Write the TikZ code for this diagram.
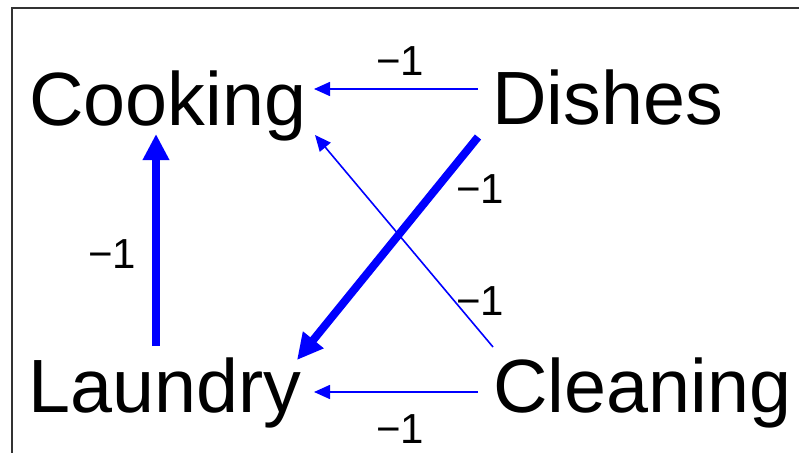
\documentclass[tikz,border=0pt]{standalone}
\usepackage{fontspec}
\setmainfont{Liberation Sans}
\usetikzlibrary{arrows.meta}
\begin{document}
\begin{tikzpicture}[x=1pt,y=-1pt,
  task/.style={anchor=base west,inner sep=0pt,font=\fontsize{75.5}{75.5}\selectfont},
  wlabel/.style={anchor=base,inner sep=0pt,font=\fontsize{42}{42}\selectfont},
  thinedge/.style={draw=blue,line width=1.6pt,-{Triangle[length=16pt,width=14pt]}},
  thickedge/.style={draw=blue,line width=8pt,-{Triangle[length=26pt,width=25pt]}}]
\useasboundingbox (0,0) rectangle (799,452);
\draw[line width=1.4pt,black!80] (12,8) rectangle (830,480);
\node[task] (cooking) at (29,125) {Cooking};
\node[task] (dishes) at (492,124) {Dishes};
\node[task] (laundry) at (28,412) {Laundry};
\node[task] (cleaning) at (493,412) {Cleaning};
\coordinate (dcS) at (478,89);
\coordinate (dcE) at (314,89);
\coordinate (clS) at (478,392);
\coordinate (clE) at (314,392);
\coordinate (lcS) at (156,346);
\coordinate (lcE) at (156,134);
\coordinate (dlS) at (478,137);
\coordinate (dlE) at (297,360);
\coordinate (ccS) at (493,347);
\coordinate (ccE) at (315,135);
\draw[thinedge] (dcS) -- (dcE);
\draw[thinedge] (clS) -- (clE);
\draw[thickedge] (lcS) -- (lcE);
\draw[thickedge] (dlS) -- (dlE);
\draw[thinedge] (ccS) -- (ccE);
\node[wlabel] (l1) at (400,75) {−1};
\node[wlabel] (l2) at (400,443) {−1};
\node[wlabel] (l3) at (112,268) {−1};
\node[wlabel] (l4) at (480,203) {−1};
\node[wlabel] (l5) at (480,315) {−1};
\end{tikzpicture}
\end{document}
